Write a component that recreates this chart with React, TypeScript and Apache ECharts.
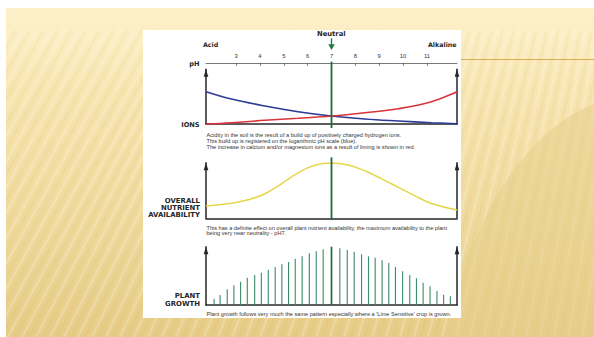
import React, { useEffect, useRef } from "react";
import * as echarts from "echarts";

// ---- data ----
const phTicks = [3, 4, 5, 6, 7, 8, 9, 10, 11];
const phMin = 1.74;
const phMax = 12.26;
const neutralPh = 7;

// Ions panel (relative height units)
const hydrogenIons: number[][] = [
  [1.74, 32.3], [2.81, 25], [4.21, 18], [5.6, 12.3], [7, 8],
  [8.4, 5], [9.8, 3], [11.19, 1.3], [12.26, 0.3],
];
const calciumIons: number[][] = [
  [1.74, 0], [2.81, 1.3], [4.21, 3.7], [5.6, 5.7], [7, 8],
  [8.4, 11.3], [9.8, 15.3], [11.19, 22.3], [12.26, 32.3],
];

// Overall nutrient availability
const nutrientAvailability: number[][] = [
  [1.74, 12.3], [2.81, 15.0], [3.5, 18.5], [4.21, 24.5], [4.9, 34.5],
  [5.6, 45.5], [6.3, 53], [7, 55.4], [7.7, 53.2], [8.4, 47.5],
  [9.1, 39.5], [9.8, 31], [10.5, 22.5], [11.19, 14.8], [12.26, 8.3],
];

// Plant growth
const growthPh = [
  2.08, 2.33, 2.63, 2.91, 3.19, 3.47, 3.78, 4.06, 4.35, 4.64, 4.92, 5.2,
  5.48, 5.77, 6.07, 6.36, 6.65, 7.0, 7.35, 7.66, 7.95, 8.26, 8.55, 8.83,
  9.12, 9.4, 9.68, 9.98, 10.28, 10.56, 10.84, 11.13, 11.42, 11.7, 11.98,
];
const growthHeight = [
  6, 10, 15.7, 19.7, 23.3, 27.3, 30, 32.3, 35, 38, 40.7, 43,
  46.3, 48.7, 51.7, 53.7, 55.7, 58.3, 56.7, 55, 53.3, 50.7, 48.7, 47.3,
  44.7, 42, 38, 33.7, 30, 26.7, 22.3, 18.7, 14, 10.3, 8.7,
];

const captionIons = [
  "Acidity in the soil is the result of a build up of positively charged hydrogen ions.",
  "This build up is registered on the logarithmic pH scale (blue).",
  "The increase in calcium and/or magnesium ions as a result of liming is shown in red.",
];
const captionNutrient = [
  "This has a definite effect on overall plant nutrient availability, the maximum availability to the plant",
  "being very near neutrality - pH7.",
];
const captionGrowth = [
  "Plant growth follows very much the same pattern especially where a 'Lime Sensitive' crop is grown.",
];

const FONT = "Liberation Sans, Arial, Helvetica, sans-serif";
const LABEL_FONT = "DejaVu Sans, Liberation Sans, Arial, sans-serif";
const AXIS = "#262626";
const GREEN = "#1c6a3e";

const panels = [
  { top: 69.3, height: 54.7 },
  { top: 162.7, height: 55.6 },
  { top: 246.7, height: 58.3 },
];

function buildBackground(): any[] {
  const els: any[] = [];
  els.push({
    type: "rect",
    shape: { x: 6, y: 8, width: 588, height: 329 },
    style: {
      fill: new echarts.graphic.LinearGradient(0, 0, 0, 1, [
        { offset: 0, color: "#fdf1ca" },
        { offset: 0.07, color: "#fcefc4" },
        { offset: 0.25, color: "#f8e5b0" },
        { offset: 0.65, color: "#efd99b" },
        { offset: 1, color: "#e6cc86" },
      ]),
    },
    silent: true,
    z: -10,
  });
  // diagonal stripes (decoration)
  for (let x0 = -160; x0 < 600; x0 += 7) {
    const t = Math.min(1, Math.max(0, x0 / 594));
    const slope = 0.55 - 0.4 * t;
    let yStart = 337;
    let xStart = x0;
    if (x0 < 6) {
      yStart = 337 - (6 - x0) / slope;
      xStart = 6;
    }
    const yEnd = 28;
    if (yStart <= yEnd) continue;
    const xEnd = x0 + slope * (337 - yEnd);
    const light = Math.round((x0 + 160) / 7) % 2 === 0;
    els.push({
      type: "line",
      shape: { x1: xStart, y1: yStart, x2: xEnd, y2: yEnd },
      style: {
        stroke: light ? "rgba(255,255,255,0.2)" : "rgba(190,150,60,0.06)",
        lineWidth: 2.6,
      },
      silent: true,
      z: -9,
    });
  }
  // top band fade cover
  els.push({
    type: "rect",
    shape: { x: 6, y: 8, width: 588, height: 26 },
    style: {
      fill: new echarts.graphic.LinearGradient(0, 0, 0, 1, [
        { offset: 0, color: "rgba(253,241,202,1)" },
        { offset: 0.75, color: "rgba(252,238,196,1)" },
        { offset: 1, color: "rgba(252,238,196,0)" },
      ]),
    },
    silent: true,
    z: -8,
  });
  // soft arc on the right
  els.push({
    type: "ellipse",
    shape: { cx: 640, cy: 430, rx: 200, ry: 335 },
    style: { fill: "rgba(232,206,138,0.55)" },
    silent: true,
    z: -8,
  });
  // horizontal accent line
  els.push({
    type: "line",
    shape: { x1: 40, y1: 59.5, x2: 143, y2: 59.5 },
    style: {
      stroke: new echarts.graphic.LinearGradient(0, 0, 1, 0, [
        { offset: 0, color: "rgba(220,170,85,0)" },
        { offset: 0.35, color: "rgba(220,170,85,1)" },
        { offset: 1, color: "rgba(218,168,82,1)" },
      ]),
      lineWidth: 1.1,
    },
    silent: true,
    z: -7,
  });
  els.push({
    type: "line",
    shape: { x1: 461, y1: 59.5, x2: 594, y2: 59.5 },
    style: { stroke: "rgba(218,170,88,1)", lineWidth: 1.1 },
    silent: true,
    z: -7,
  });
  // white panel
  els.push({
    type: "rect",
    shape: { x: 143, y: 30, width: 318, height: 288 },
    style: { fill: "#ffffff" },
    silent: true,
    z: -6,
  });
  return els;
}

function txt(text: string, x: number, y: number, align: string, size: number, bold: boolean, family = FONT, color = "#262626") {
  return {
    type: "text",
    x,
    y,
    style: {
      text,
      fill: color,
      fontFamily: family,
      fontSize: size,
      fontWeight: bold ? "bold" : "normal",
      textAlign: align,
      textVerticalAlign: "middle",
    },
    silent: true,
    z: 5,
  };
}

function buildTexts(): any[] {
  const t: any[] = [];
  t.push(txt("Neutral", 331.3, 34, "center", 6.8, true, LABEL_FONT));
  t.push(txt("Acid", 203, 44.5, "left", 6.3, true, LABEL_FONT));
  t.push(txt("Alkaline", 428, 44, "left", 6.3, true, LABEL_FONT, "#1e1e1e"));
  t.push(txt("pH", 199.5, 63.5, "right", 6.6, true, LABEL_FONT));
  t.push(txt("IONS", 199.5, 124.5, "right", 6.6, true, LABEL_FONT));
  t.push(txt("OVERALL", 200, 201, "right", 6.9, true, LABEL_FONT));
  t.push(txt("NUTRIENT", 200, 207.8, "right", 6.9, true, LABEL_FONT));
  t.push(txt("AVAILABILITY", 200, 214.6, "right", 6.9, true, LABEL_FONT));
  t.push(txt("PLANT", 200, 296, "right", 6.9, true, LABEL_FONT));
  t.push(txt("GROWTH", 200, 303.8, "right", 6.9, true, LABEL_FONT));
  captionIons.forEach((s, i) => t.push(txt(s, 206.5, 135 + i * 6, "left", 5.6, false, FONT, "#333")));
  captionNutrient.forEach((s, i) => t.push(txt(s, 206.5, 227.6 + i * 5.6, "left", 5.6, false, FONT, "#333")));
  captionGrowth.forEach((s, i) => t.push(txt(s, 206.5, 314.3 + i * 5.6, "left", 5.6, false, FONT, "#333")));
  return t;
}

export default function App() {
  const ref = useRef<HTMLDivElement>(null);

  useEffect(() => {
    if (!ref.current) return;
    const chart = echarts.init(ref.current, undefined, { renderer: "svg" });

    const grids = panels.map((p) => ({ left: 206, right: 137, top: p.top, height: p.height }));

    const xAxes: any[] = panels.map((_, i) => ({
      type: "value",
      gridIndex: i,
      min: phMin,
      max: phMax,
      position: "bottom",
      axisLine: { show: true, onZero: false, lineStyle: { color: AXIS, width: 1.5 } },
      axisTick: { show: false },
      axisLabel: { show: false },
      splitLine: { show: false },
    }));
    xAxes.push({
      type: "value",
      gridIndex: 0,
      min: phMin,
      max: phMax,
      position: "top",
      offset: 6,
      axisLine: { show: true, onZero: false, lineStyle: { color: "#7a7a7a", width: 1 } },
      axisTick: {
        show: true,
        inside: true,
        length: 2.5,
        customValues: phTicks,
        lineStyle: { color: "#555", width: 0.8 },
      },
      axisLabel: {
        show: true,
        customValues: phTicks,
        fontSize: 5.8,
        color: "#333",
        fontFamily: FONT,
        margin: 4,
      },
      splitLine: { show: false },
    });

    const yAxes: any[] = [];
    panels.forEach((p, i) => {
      ["left", "right"].forEach((pos) => {
        yAxes.push({
          type: "value",
          gridIndex: i,
          position: pos,
          min: 0,
          max: p.height,
          axisLine: {
            show: true,
            onZero: false,
            symbol: ["none", "triangle"],
            symbolSize: [4.6, 7.5],
            symbolOffset: [0, -3.75],
            lineStyle: { color: AXIS, width: 1.5 },
          },
          axisTick: { show: false },
          axisLabel: { show: false },
          splitLine: { show: false },
        });
      });
    });

    const neutralLine = (gridIdx: number, above: number, below: number, withArrow: boolean) => ({
      type: "custom",
      xAxisIndex: gridIdx,
      yAxisIndex: gridIdx * 2,
      clip: false,
      silent: true,
      z: 4,
      data: [[neutralPh, panels[gridIdx].height]],
      encode: { x: 0, y: 1 },
      renderItem: (_params: any, api: any) => {
        const top = api.coord([api.value(0), api.value(1)]);
        const bot = api.coord([api.value(0), 0]);
        const cx = top[0];
        const children: any[] = [
          {
            type: "line",
            shape: { x1: cx, y1: top[1] - above, x2: cx, y2: bot[1] + below },
            style: { stroke: GREEN, lineWidth: 1.8 },
          },
        ];
        if (withArrow) {
          children.push({
            type: "line",
            shape: { x1: cx, y1: top[1] - 31, x2: cx, y2: top[1] - 23 },
            style: { stroke: "#1f7a44", lineWidth: 1.4 },
          });
          children.push({
            type: "polygon",
            shape: { points: [[cx - 3.2, top[1] - 25], [cx + 3.2, top[1] - 25], [cx, top[1] - 19.3]] },
            style: { fill: "#1f7a44" },
          });
        }
        return { type: "group", children };
      },
    });

    const option: any = {
      animation: false,
      backgroundColor: "transparent",
      graphic: [...buildBackground(), ...buildTexts()],
      grid: grids,
      xAxis: xAxes,
      yAxis: yAxes,
      series: [
        {
          name: "Hydrogen ions",
          type: "line",
          xAxisIndex: 0,
          yAxisIndex: 0,
          data: hydrogenIons,
          smooth: 0.4,
          showSymbol: false,
          clip: false,
          lineStyle: { color: "#2c3a95", width: 1.6 },
          z: 3,
        },
        {
          name: "Calcium / magnesium ions",
          type: "line",
          xAxisIndex: 0,
          yAxisIndex: 0,
          data: calciumIons,
          smooth: 0.4,
          showSymbol: false,
          clip: false,
          lineStyle: { color: "#d9343c", width: 1.6 },
          z: 3,
        },
        {
          name: "Nutrient availability",
          type: "line",
          xAxisIndex: 1,
          yAxisIndex: 2,
          data: nutrientAvailability,
          smooth: 0.45,
          showSymbol: false,
          clip: false,
          lineStyle: { color: "#e6d64a", width: 1.5 },
          z: 3,
        },
        {
          name: "Plant growth",
          type: "custom",
          xAxisIndex: 2,
          yAxisIndex: 4,
          clip: false,
          data: growthPh.map((p, i) => [p, growthHeight[i]]),
          encode: { x: 0, y: 1 },
          renderItem: (_params: any, api: any) => {
            const x = api.value(0);
            const p0 = api.coord([x, 0]);
            const p1 = api.coord([x, api.value(1)]);
            const isNeutral = Math.abs(x - neutralPh) < 0.01;
            return {
              type: "line",
              shape: { x1: p0[0], y1: p0[1], x2: p1[0], y2: p1[1] },
              style: { stroke: isNeutral ? GREEN : "#3b8a68", lineWidth: isNeutral ? 1.7 : 1.1 },
            };
          },
          z: 3,
        },
        neutralLine(0, 7.6, 4, true),
        neutralLine(1, 5.4, 1.8, false),
      ],
    };

    chart.setOption(option);
    return () => chart.dispose();
  }, []);

  return (
    <div
      ref={ref}
      style={{ position: "absolute", left: 0, top: 0, width: 594, height: 337 }}
    />
  );
}
